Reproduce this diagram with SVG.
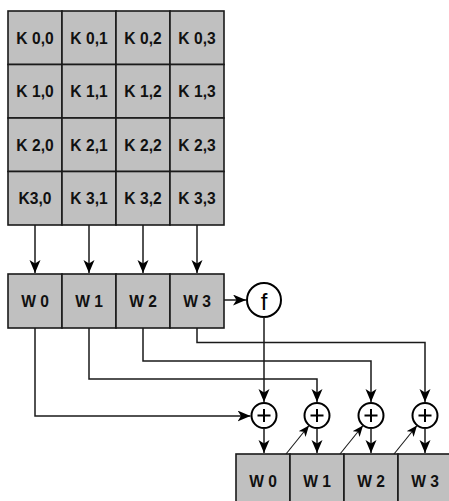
<svg xmlns="http://www.w3.org/2000/svg" width="449" height="501" viewBox="0 0 449 501">
  <style>
    .cell { fill: #c0c0c0; stroke: #1a1a1a; stroke-width: 1.6; }
    .lbl { font-family: "Liberation Sans", Arial, sans-serif; font-weight: bold; font-size: 15.6px; fill: #111; text-anchor: middle; }
    .op { fill: #fff; stroke: #000; stroke-width: 2; }
    .plus { stroke: #000; stroke-width: 2; fill: none; }
    .wire { fill: none; stroke: #1a1a1a; stroke-width: 1.5; }
    .thin { fill: none; stroke: #1a1a1a; stroke-width: 1.1; }
  </style>
  <defs>
    <marker id="arr" markerUnits="userSpaceOnUse" markerWidth="15" markerHeight="13" refX="13" refY="5.5" orient="auto">
      <path d="M0,0 L13,5.5 L0,11 L3.5,5.5 z" fill="#000"/>
    </marker>
    <marker id="arrS" markerUnits="userSpaceOnUse" markerWidth="13" markerHeight="11" refX="11" refY="4.5" orient="auto">
      <path d="M0,0 L11,4.5 L0,9 L3,4.5 z" fill="#000"/>
    </marker>
  </defs>

  <!-- key matrix K -->
  <g id="k00"><rect class="cell" x="8" y="11" width="54" height="53.5"/><text class="lbl" x="35" y="43.5">K 0,0</text></g>
  <g id="k01"><rect class="cell" x="62" y="11" width="54" height="53.5"/><text class="lbl" x="89" y="43.5">K 0,1</text></g>
  <g id="k02"><rect class="cell" x="116" y="11" width="54" height="53.5"/><text class="lbl" x="143" y="43.5">K 0,2</text></g>
  <g id="k03"><rect class="cell" x="170" y="11" width="54" height="53.5"/><text class="lbl" x="197" y="43.5">K 0,3</text></g>

  <g id="k10"><rect class="cell" x="8" y="64.5" width="54" height="53.5"/><text class="lbl" x="35" y="97">K 1,0</text></g>
  <g id="k11"><rect class="cell" x="62" y="64.5" width="54" height="53.5"/><text class="lbl" x="89" y="97">K 1,1</text></g>
  <g id="k12"><rect class="cell" x="116" y="64.5" width="54" height="53.5"/><text class="lbl" x="143" y="97">K 1,2</text></g>
  <g id="k13"><rect class="cell" x="170" y="64.5" width="54" height="53.5"/><text class="lbl" x="197" y="97">K 1,3</text></g>

  <g id="k20"><rect class="cell" x="8" y="118" width="54" height="53.5"/><text class="lbl" x="35" y="150.5">K 2,0</text></g>
  <g id="k21"><rect class="cell" x="62" y="118" width="54" height="53.5"/><text class="lbl" x="89" y="150.5">K 2,1</text></g>
  <g id="k22"><rect class="cell" x="116" y="118" width="54" height="53.5"/><text class="lbl" x="143" y="150.5">K 2,2</text></g>
  <g id="k23"><rect class="cell" x="170" y="118" width="54" height="53.5"/><text class="lbl" x="197" y="150.5">K 2,3</text></g>

  <g id="k30"><rect class="cell" x="8" y="171.5" width="54" height="53.5"/><text class="lbl" x="35" y="204">K3,0</text></g>
  <g id="k31"><rect class="cell" x="62" y="171.5" width="54" height="53.5"/><text class="lbl" x="89" y="204">K 3,1</text></g>
  <g id="k32"><rect class="cell" x="116" y="171.5" width="54" height="53.5"/><text class="lbl" x="143" y="204">K 3,2</text></g>
  <g id="k33"><rect class="cell" x="170" y="171.5" width="54" height="53.5"/><text class="lbl" x="197" y="204">K 3,3</text></g>

  <!-- words W0..W3 -->
  <g id="w0"><rect class="cell" x="8" y="274" width="54" height="54"/><text class="lbl" x="35" y="307">W 0</text></g>
  <g id="w1"><rect class="cell" x="62" y="274" width="54" height="54"/><text class="lbl" x="89" y="307">W 1</text></g>
  <g id="w2"><rect class="cell" x="116" y="274" width="54" height="54"/><text class="lbl" x="143" y="307">W 2</text></g>
  <g id="w3"><rect class="cell" x="170" y="274" width="54" height="54"/><text class="lbl" x="197" y="307">W 3</text></g>

  <!-- round function f -->
  <g id="f">
    <circle class="op" cx="264" cy="300" r="17"/>
    <text x="264" y="310" font-family="Liberation Sans, Arial, sans-serif" font-size="24" text-anchor="middle" fill="#000">f</text>
  </g>

  <!-- XOR junctions -->
  <g id="x0"><circle class="op" cx="264" cy="415.5" r="12.5"/><path class="plus" d="M257.5,415.5 H270.5 M264,409 V422"/></g>
  <g id="x1"><circle class="op" cx="317" cy="415.5" r="12.5"/><path class="plus" d="M310.5,415.5 H323.5 M317,409 V422"/></g>
  <g id="x2"><circle class="op" cx="371" cy="415.5" r="12.5"/><path class="plus" d="M364.5,415.5 H377.5 M371,409 V422"/></g>
  <g id="x3"><circle class="op" cx="425" cy="415.5" r="12.5"/><path class="plus" d="M418.5,415.5 H431.5 M425,409 V422"/></g>

  <!-- next words -->
  <g id="n0"><rect class="cell" x="236" y="454" width="54" height="54"/><text class="lbl" x="263" y="487">W 0</text></g>
  <g id="n1"><rect class="cell" x="290" y="454" width="54" height="54"/><text class="lbl" x="317" y="487">W 1</text></g>
  <g id="n2"><rect class="cell" x="344" y="454" width="54" height="54"/><text class="lbl" x="371" y="487">W 2</text></g>
  <g id="n3"><rect class="cell" x="398" y="454" width="54" height="54"/><text class="lbl" x="425" y="487">W 3</text></g>

  <!-- connectors -->
  <g id="connectors">
    <path class="wire" d="M35,225 V273" marker-end="url(#arr)"/>
    <path class="wire" d="M89,225 V273" marker-end="url(#arr)"/>
    <path class="wire" d="M143,225 V273" marker-end="url(#arr)"/>
    <path class="wire" d="M197,225 V273" marker-end="url(#arr)"/>

    <path class="wire" d="M224,300 H246" marker-end="url(#arr)"/>
    <path class="wire" d="M264,317 V402" marker-end="url(#arr)"/>

    <path class="wire" d="M35,328 V416 H250.5" marker-end="url(#arr)"/>
    <path class="wire" d="M89,328 V379 H317 V402" marker-end="url(#arr)"/>
    <path class="wire" d="M143,328 V361 H371 V402" marker-end="url(#arr)"/>
    <path class="wire" d="M197,328 V342.5 H425 V402" marker-end="url(#arr)"/>

    <path class="wire" d="M264,428 V453" marker-end="url(#arr)"/>
    <path class="wire" d="M317,428 V453" marker-end="url(#arr)"/>
    <path class="wire" d="M371,428 V453" marker-end="url(#arr)"/>
    <path class="wire" d="M425,428 V453" marker-end="url(#arr)"/>

    <path class="thin" d="M286,454 L309,425.5" marker-end="url(#arrS)"/>
    <path class="thin" d="M340,454 L363,425.5" marker-end="url(#arrS)"/>
    <path class="thin" d="M394,454 L417,425.5" marker-end="url(#arrS)"/>
  </g>
</svg>
